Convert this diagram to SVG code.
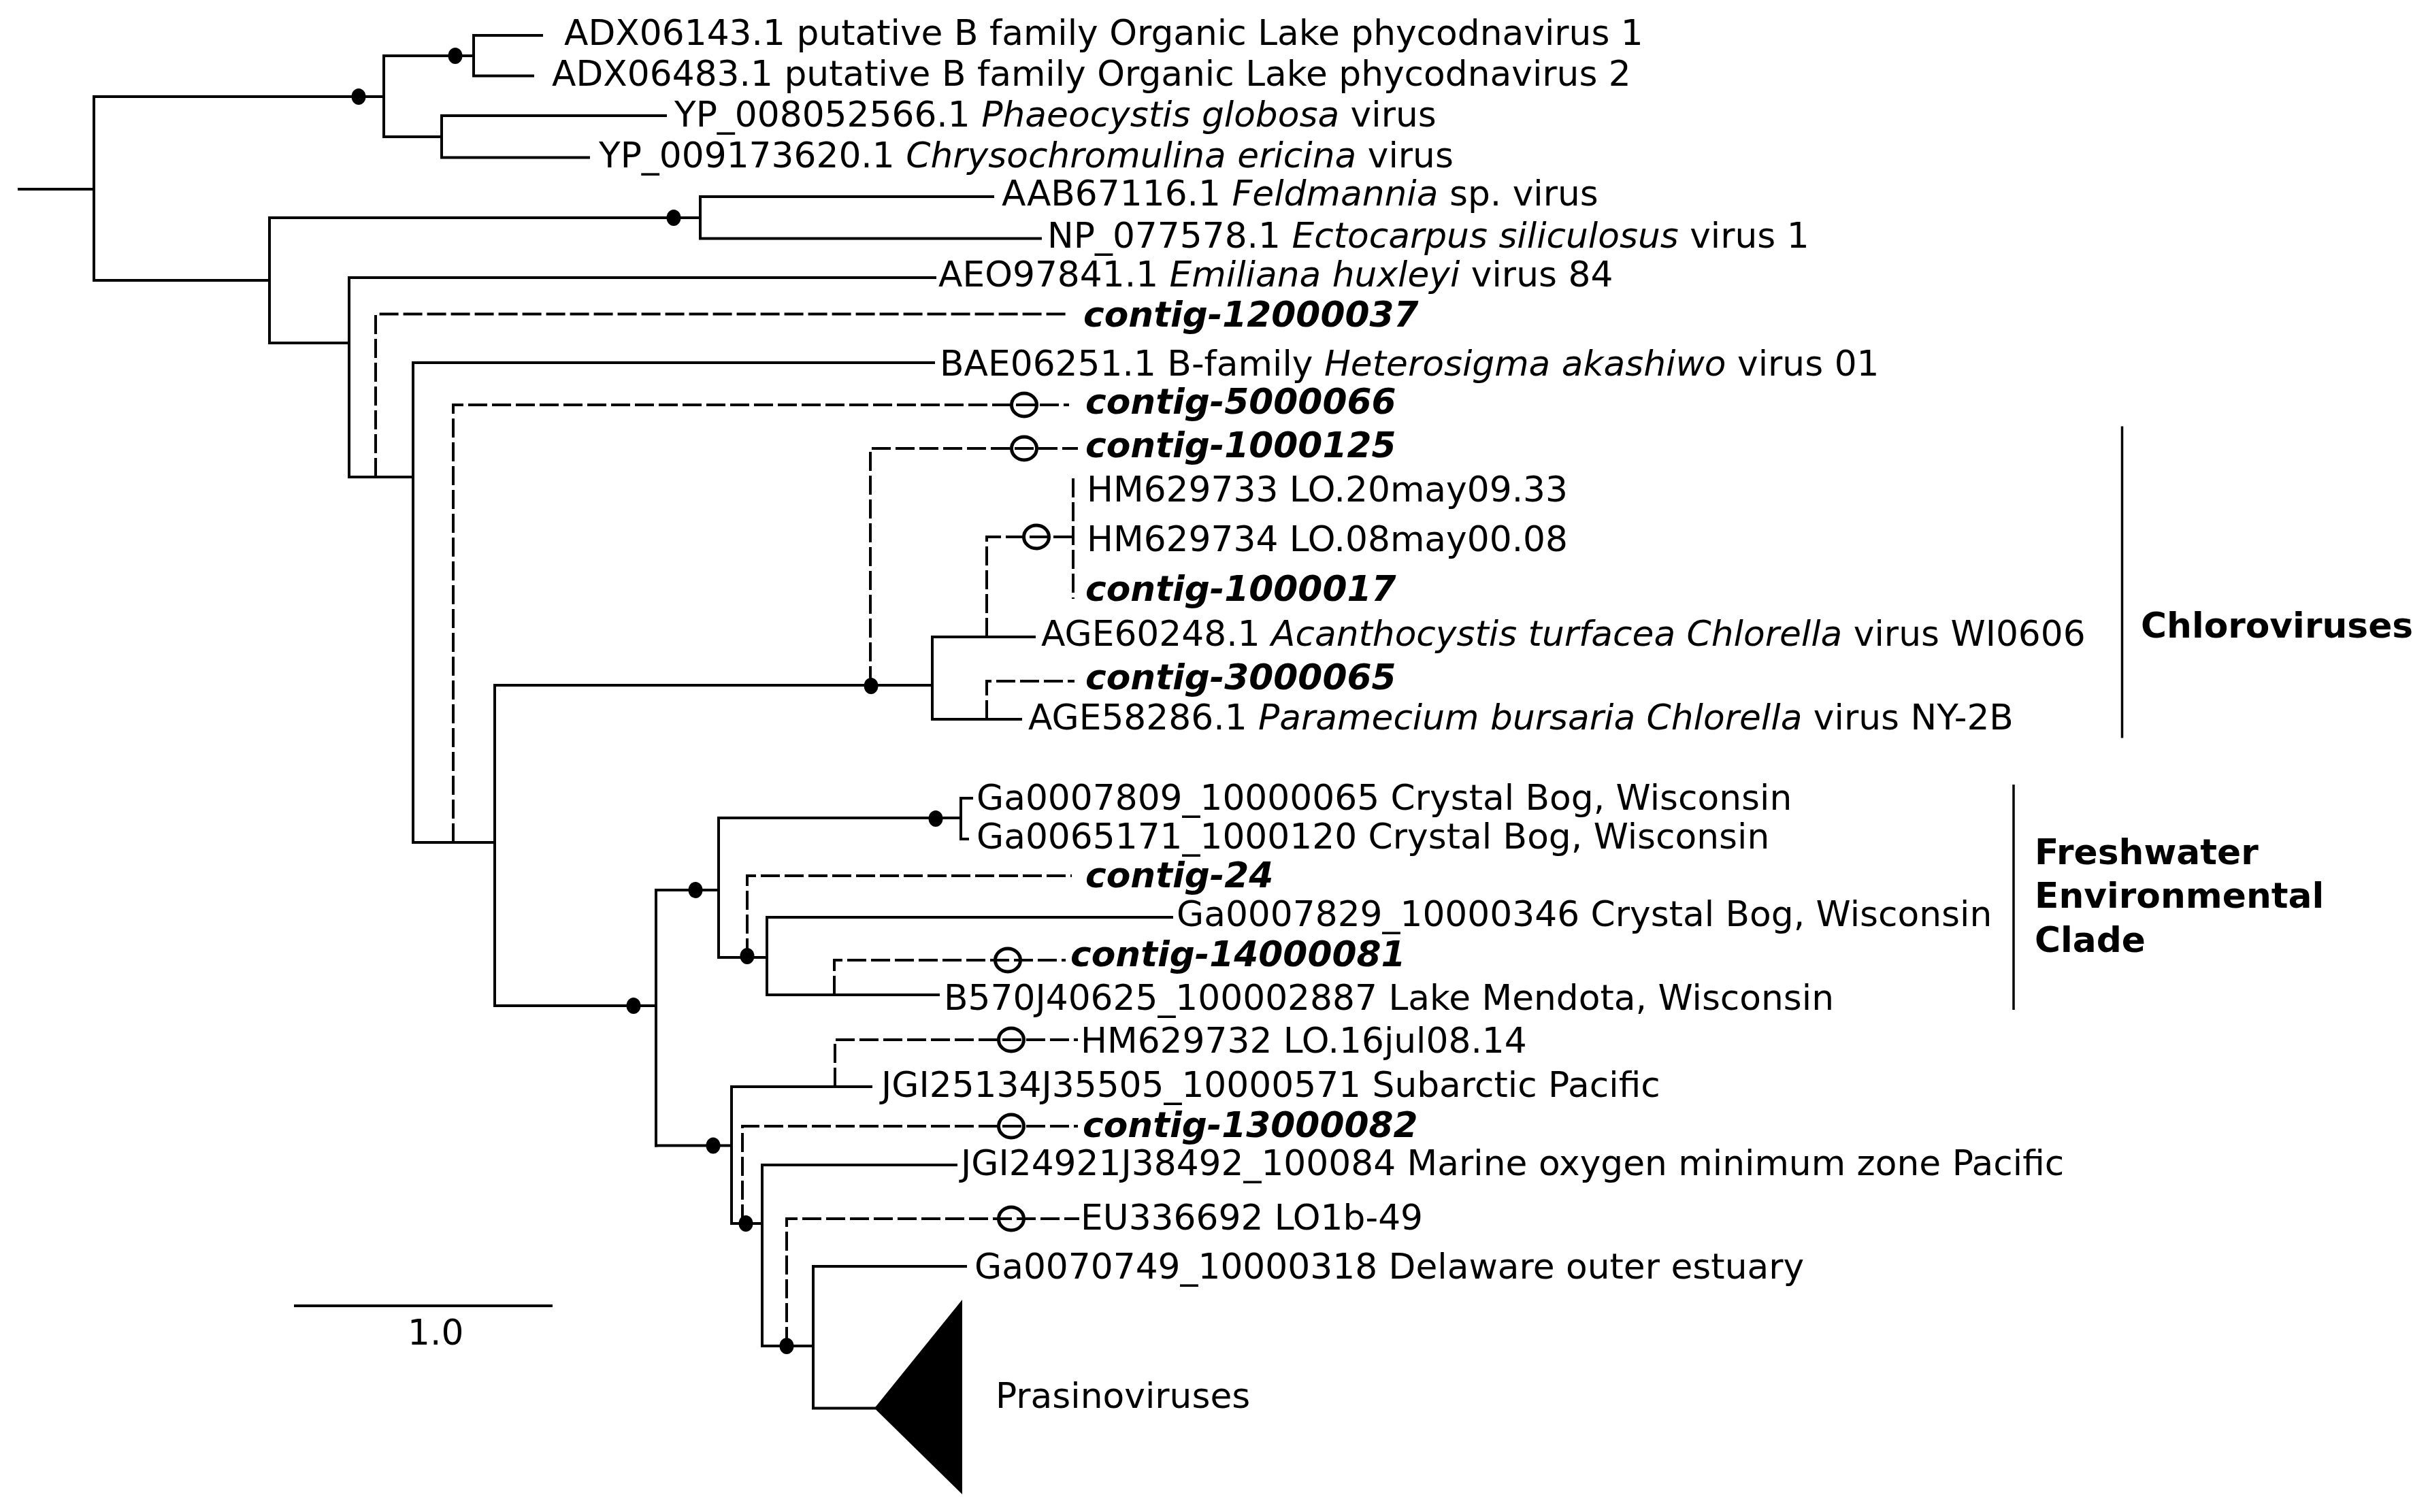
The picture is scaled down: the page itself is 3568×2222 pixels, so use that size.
<svg xmlns="http://www.w3.org/2000/svg" width="3568" height="2222" viewBox="0 0 3568 2222">
<style>
.br{fill:none;stroke:#000;stroke-width:4;stroke-linecap:square}
.ds{fill:none;stroke:#000;stroke-width:4;stroke-dasharray:28 7}
.bar{fill:none;stroke:#000;stroke-width:3.5}
.dot{fill:#000}
.ring{fill:none;stroke:#000;stroke-width:5}
text{font-family:"DejaVu Sans","Liberation Sans",sans-serif;font-size:51.8px;fill:#000}
.ct{font-weight:bold;font-style:italic}
.cl{font-weight:bold}
.i{font-style:italic}
</style>
<rect width="3568" height="2222" fill="#fff"/>
<g id="connectors">
<path class="br" d="M28 278H138M138 142V412M138 142H564M564 82V201M564 82H696M696 52V111.5M696 52H796M696 111.5H783M564 201H649M649 170V231.5M649 170H978M649 231.5H865"/>
<path class="br" d="M138 412H396M396 320V504M396 320H1029M1029 289V350.6M1029 289H1459M1029 350.6H1529M396 504H513M513 408V701M513 408H1374M513 701H607M607 533V1238M607 533H1372M607 1238H727"/>
<path class="br" d="M727 1007V1478M727 1007H1370M1370 936V1057M1370 936H1520M1370 1057H1500"/>
<path class="br" d="M727 1478H964M964 1308V1683.5M964 1308H1056M1056 1202V1407M1056 1202H1412M1412 1173V1233M1412 1173H1428M1412 1233H1422M1056 1407H1127M1127 1348V1462M1127 1348H1722M1127 1462H1379"/>
<path class="br" d="M964 1683.5H1075M1075 1597V1798M1075 1597H1280M1075 1798H1120M1120 1712V1978M1120 1712H1405M1120 1978H1195M1195 1861V2069.5M1195 1861H1419M1195 2069.5H1285"/>
<path class="ds" d="M552 701V461.6H1566"/>
<path class="ds" d="M666 1238V595H1571"/>
<path class="ds" d="M1279 1007V659H1584"/>
<path class="ds" d="M1450 936V789H1577"/>
<path class="ds" d="M1577 703V880"/>
<path class="ds" d="M1450 1057V1001H1579"/>
<path class="ds" d="M1098 1407V1287H1575"/>
<path class="ds" d="M1226 1462V1411H1566"/>
<path class="ds" d="M1227 1597V1528H1584"/>
<path class="ds" d="M1091 1798V1655H1584"/>
<path class="ds" d="M1156 1978V1791H1586"/>
</g>
<g id="support">
<ellipse class="dot" cx="527" cy="142" rx="10.5" ry="12"/>
<ellipse class="dot" cx="669" cy="82" rx="10.5" ry="12"/>
<ellipse class="dot" cx="990" cy="320" rx="10.5" ry="12"/>
<ellipse class="dot" cx="1280" cy="1008" rx="10.5" ry="12"/>
<ellipse class="dot" cx="931" cy="1478" rx="10.5" ry="12"/>
<ellipse class="dot" cx="1022" cy="1308" rx="10.5" ry="12"/>
<ellipse class="dot" cx="1375" cy="1203" rx="10.5" ry="12"/>
<ellipse class="dot" cx="1098" cy="1405" rx="10.5" ry="12"/>
<ellipse class="dot" cx="1048" cy="1683.5" rx="10.5" ry="12"/>
<ellipse class="dot" cx="1096" cy="1798" rx="10.5" ry="12"/>
<ellipse class="dot" cx="1156" cy="1978" rx="10.5" ry="12"/>
<ellipse class="ring" cx="1505" cy="595" rx="18.5" ry="17"/>
<ellipse class="ring" cx="1505" cy="659" rx="18.5" ry="17"/>
<ellipse class="ring" cx="1523" cy="789" rx="18.5" ry="17"/>
<ellipse class="ring" cx="1481" cy="1411" rx="18.5" ry="17"/>
<ellipse class="ring" cx="1486" cy="1528" rx="18.5" ry="17"/>
<ellipse class="ring" cx="1486" cy="1655" rx="18.5" ry="17"/>
<ellipse class="ring" cx="1486" cy="1791" rx="18.5" ry="17"/>
</g>
<g id="leaf-ADX06143"><text x="829" y="66">ADX06143.1 putative B family Organic Lake phycodnavirus 1</text></g>
<g id="leaf-ADX06483"><text x="811" y="126">ADX06483.1 putative B family Organic Lake phycodnavirus 2</text></g>
<g id="leaf-YP_008052566"><text x="991" y="186">YP_008052566.1 <tspan class="i">Phaeocystis globosa</tspan> virus</text></g>
<g id="leaf-YP_009173620"><text x="880" y="246">YP_009173620.1 <tspan class="i">Chrysochromulina ericina</tspan> virus</text></g>
<g id="leaf-AAB67116"><text x="1472" y="302">AAB67116.1 <tspan class="i">Feldmannia</tspan> sp. virus</text></g>
<g id="leaf-NP_077578"><text x="1539" y="364">NP_077578.1 <tspan class="i">Ectocarpus siliculosus</tspan> virus 1</text></g>
<g id="leaf-AEO97841"><text x="1379" y="421">AEO97841.1 <tspan class="i">Emiliana huxleyi</tspan> virus 84</text></g>
<g id="leaf-contig-12000037"><text class="ct" x="1592" y="480">contig-12000037</text></g>
<g id="leaf-BAE06251"><text x="1381" y="552">BAE06251.1 B-family <tspan class="i">Heterosigma akashiwo</tspan> virus 01</text></g>
<g id="leaf-contig-5000066"><text class="ct" x="1595" y="608">contig-5000066</text></g>
<g id="leaf-contig-1000125"><text class="ct" x="1595" y="672">contig-1000125</text></g>
<g id="leaf-HM629733"><text x="1597" y="737">HM629733 LO.20may09.33</text></g>
<g id="leaf-HM629734"><text x="1597" y="810">HM629734 LO.08may00.08</text></g>
<g id="leaf-contig-1000017"><text class="ct" x="1595" y="883">contig-1000017</text></g>
<g id="leaf-AGE60248"><text x="1530" y="949">AGE60248.1 <tspan class="i">Acanthocystis turfacea Chlorella</tspan> virus WI0606</text></g>
<g id="leaf-contig-3000065"><text class="ct" x="1595" y="1013">contig-3000065</text></g>
<g id="leaf-AGE58286"><text x="1511" y="1072">AGE58286.1 <tspan class="i">Paramecium bursaria Chlorella</tspan> virus NY-2B</text></g>
<g id="leaf-Ga0007809"><text x="1435" y="1190">Ga0007809_10000065 Crystal Bog, Wisconsin</text></g>
<g id="leaf-Ga0065171"><text x="1435" y="1247">Ga0065171_1000120 Crystal Bog, Wisconsin</text></g>
<g id="leaf-contig-24"><text class="ct" x="1595" y="1304">contig-24</text></g>
<g id="leaf-Ga0007829"><text x="1729" y="1361">Ga0007829_10000346 Crystal Bog, Wisconsin</text></g>
<g id="leaf-contig-14000081"><text class="ct" x="1573" y="1420">contig-14000081</text></g>
<g id="leaf-B570J40625"><text x="1387" y="1484">B570J40625_100002887 Lake Mendota, Wisconsin</text></g>
<g id="leaf-HM629732"><text x="1588" y="1547">HM629732 LO.16jul08.14</text></g>
<g id="leaf-JGI25134"><text x="1295" y="1612">JGI25134J35505_10000571 Subarctic Pacific</text></g>
<g id="leaf-contig-13000082"><text class="ct" x="1591" y="1671">contig-13000082</text></g>
<g id="leaf-JGI24921"><text x="1412" y="1727">JGI24921J38492_100084 Marine oxygen minimum zone Pacific</text></g>
<g id="leaf-EU336692"><text x="1588" y="1807">EU336692 LO1b-49</text></g>
<g id="leaf-Ga0070749"><text x="1432" y="1879">Ga0070749_10000318 Delaware outer estuary</text></g>
<g id="clade-prasinoviruses">
<polygon points="1285,2069.5 1414,1910 1414,2196" fill="#000"/>
<text x="1463" y="2069">Prasinoviruses</text>
</g>
<g id="clade-chloroviruses">
<path class="bar" d="M3118.5 626.5V1084.5"/>
<text class="cl" x="3146" y="937">Chloroviruses</text>
</g>
<g id="clade-freshwater">
<path class="bar" d="M2959 1153V1484"/>
<text class="cl" x="2990" y="1270">Freshwater</text>
<text class="cl" x="2990" y="1334">Environmental</text>
<text class="cl" x="2990" y="1399">Clade</text>
</g>
<g id="scale-bar">
<path class="br" d="M432 1919H812" style="stroke-linecap:butt"/>
<text x="599" y="1976">1.0</text>
</g>
</svg>
